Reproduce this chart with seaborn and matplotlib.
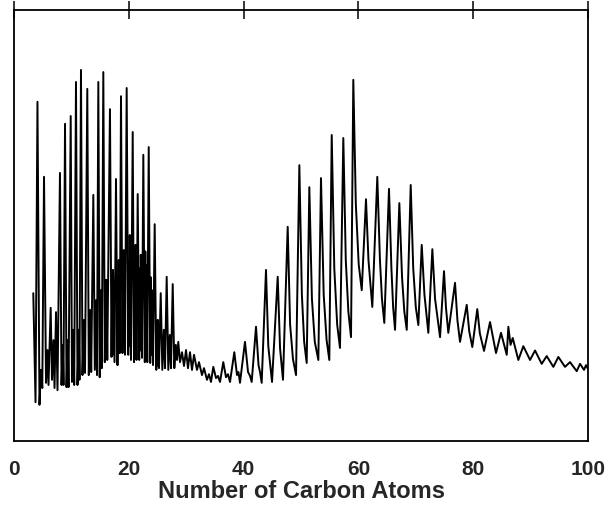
import pandas as pd
import matplotlib
matplotlib.use('Agg')
import matplotlib.pyplot as plt
import seaborn as sns

# TRACE (carbon number, relative signal 0-100)
# first complex (light end, dense peaks)
front_carbon = [3.36, 3.75, 4.09, 4.44, 4.70, 4.93, 5.23, 5.58, 5.84, 6.01, 6.39, 6.62, 6.88, 7.06,
                7.32, 7.58, 8.01, 8.28, 8.50, 8.62, 8.89, 9.15, 9.37, 9.50, 9.88, 10.10, 10.33, 10.49,
                10.80, 11.06, 11.29, 11.41, 11.67, 11.93, 12.20, 12.37, 12.77, 13.03, 13.28, 13.45,
                13.82, 14.08, 14.32, 14.46, 14.69, 14.93, 15.16, 15.30, 15.56, 15.82, 15.92, 15.99,
                16.08, 16.25, 16.72, 16.99, 17.09, 17.16, 17.25, 17.51, 17.77, 18.03, 18.12, 18.19,
                18.26, 18.43, 18.64, 18.90, 18.99, 19.06, 19.13, 19.34, 19.63, 19.90, 19.99, 20.07,
                20.17, 20.38, 20.68, 20.91, 21.00, 21.08, 21.17, 21.34, 21.55, 21.81, 21.90, 21.98,
                22.09, 22.30, 22.53, 22.79, 22.88, 22.95, 23.03, 23.22, 23.47, 23.73, 23.82, 23.90,
                24.01, 24.22, 24.51, 24.79, 24.88, 24.95, 25.05, 25.26,
                25.56, 25.84, 26.10, 26.31, 26.60, 26.88, 27.14, 27.35, 27.65, 27.93, 28.19, 28.40,
                28.62, 28.92, 29.27, 29.62, 29.97, 30.31, 30.66, 31.01, 31.36]
front_signal = [34.3, 9.0, 78.7, 8.4, 16.5, 12.3, 61.3, 13.5, 21.1, 13.0, 30.9, 14.2, 23.4, 12.3,
                29.9, 11.8, 62.2, 13.0, 22.3, 13.0, 73.6, 12.5, 23.4, 12.5, 75.4, 13.7, 25.8, 13.0,
                83.3, 13.0, 25.8, 14.2, 86.1, 15.3, 28.1, 15.8, 81.7, 15.3, 30.4, 16.0,
                57.1, 16.5, 32.7, 15.3, 83.3, 14.8, 35.0, 16.9, 85.6, 18.3, 30.0, 19.0,
                37.4, 18.8, 77.0, 19.5, 33.0, 20.0, 39.7, 18.3, 60.8, 17.6, 34.0, 20.5,
                42.0, 20.4, 80.0, 20.4, 38.0, 22.0, 44.3, 20.0, 81.9, 20.0, 40.0, 22.0,
                47.8, 18.8, 71.7, 18.3, 42.0, 21.0, 45.5, 18.8, 57.3, 18.8, 40.0, 21.0,
                43.2, 19.3, 66.4, 18.3, 44.0, 21.0, 40.8, 18.3, 68.2, 18.1, 38.0, 20.0,
                35.0, 17.6, 50.3, 16.5, 24.0, 17.5, 28.1, 16.9,
                34.3, 16.5, 25.8, 16.9, 38.1, 16.5, 24.6, 16.9, 36.4, 16.9, 22.3, 18.8,
                23.0, 18.3, 20.6, 17.4, 21.1, 16.9, 20.6, 16.5, 20.0]

# valley between the two complexes
ramp_carbon = [31.88, 32.23, 32.75, 33.10, 33.62, 33.97, 34.32, 34.72, 35.19, 35.54, 35.89, 36.46,
               36.93, 37.28, 37.63, 38.38, 38.85, 39.11, 39.37, 40.24, 40.77, 41.12, 41.41, 42.16,
               42.60, 42.86, 43.15]
ramp_signal = [16.5, 18.3, 15.3, 16.9, 14.2, 15.5, 13.7, 17.2, 14.6, 15.1, 13.7, 18.3,
               14.8, 15.5, 13.7, 20.6, 15.3, 16.0, 13.5, 23.0, 16.0, 15.1, 13.7, 26.5,
               17.6, 16.0, 13.5]

# second complex (heavy end)
back_carbon = [43.90, 44.30, 44.95, 45.94, 46.35, 46.86, 47.68, 48.10, 48.60, 49.13, 49.71, 50.15,
               50.55, 50.99, 51.45, 51.90, 52.40, 53.02, 53.48, 53.95, 54.45, 54.93, 55.35, 55.80,
               56.30, 56.79, 57.37, 57.80, 58.25, 58.71, 59.11, 59.55, 60.05, 60.58, 61.32, 61.75,
               62.42, 63.29, 63.75, 64.10, 64.51, 65.33, 65.75, 66.05, 66.38, 67.13, 67.60, 68.00,
               68.42, 69.11, 69.55, 70.00, 70.44, 71.03, 71.50, 72.18, 72.88, 73.35, 74.22, 74.91,
               75.25, 75.66, 76.83, 77.25, 77.70, 78.87, 79.30, 79.84, 80.71, 81.15, 81.88, 82.93,
               83.97, 84.84, 85.84, 86.12, 86.50, 86.88, 87.86, 88.73, 89.90, 90.77, 91.93, 92.80,
               93.96, 94.83, 95.99, 96.86, 98.03, 98.61, 99.30, 99.65, 100.0]
back_signal = [39.7, 22.0, 13.7, 38.1, 21.5, 14.2, 49.7, 27.0, 19.0, 15.3, 64.0, 34.0,
               23.0, 18.1, 58.9, 33.0, 23.0, 18.8, 61.0, 34.0, 23.5, 18.8, 71.0, 40.0,
               27.0, 21.6, 70.3, 42.0, 30.0, 24.1, 83.8, 55.0, 41.0, 35.0, 56.1, 42.0,
               31.1, 61.3, 42.0, 33.0, 27.4, 58.5, 40.0, 31.0, 25.8, 55.2, 38.0, 30.0,
               25.8, 59.4, 40.0, 31.0, 26.9, 45.5, 34.0, 25.1, 44.5, 33.0, 24.1, 39.4,
               31.0, 25.1, 36.7, 28.0, 23.0, 31.6, 25.5, 21.8, 30.6, 25.0, 20.9, 27.6,
               20.4, 25.1, 20.0, 26.5, 22.3, 23.9, 18.8, 22.0, 18.8, 21.0, 17.9, 19.7,
               17.2, 19.5, 17.2, 18.3, 16.2, 17.9, 16.5, 17.6, 16.7]

xticks = [0, 20, 40, 60, 80, 100]

df = pd.DataFrame({'carbon': front_carbon + ramp_carbon + back_carbon,
                   'signal': front_signal + ramp_signal + back_signal})

sns.set_style('white')
plt.rcParams['font.family'] = ['Liberation Sans', 'DejaVu Sans']

fig = plt.figure(figsize=(6.11, 5.19), dpi=100)
ax = fig.add_axes([0.0229, 0.1503, 0.9395, 0.8304])

sns.lineplot(data=df, x='carbon', y='signal', sort=False, estimator=None,
             color='black', linewidth=1.4, ax=ax)

ax.set_xlim(0, 100)
ax.set_ylim(0, 100)
ax.set_xticks(xticks)
ax.set_xticklabels([str(t) for t in xticks], fontsize=15, fontweight='bold')
ax.set_yticks([])
ax.tick_params(axis='x', direction='inout', length=13, width=1.1, top=True,
               labeltop=False, pad=7, color='black')
for s in ax.spines.values():
    s.set_linewidth(1.3)
    s.set_color('black')

ax.set_xlabel('Number of Carbon Atoms', fontsize=17, fontweight='bold', labelpad=1)
ax.set_ylabel('')

fig.savefig('out.png', dpi=100)
